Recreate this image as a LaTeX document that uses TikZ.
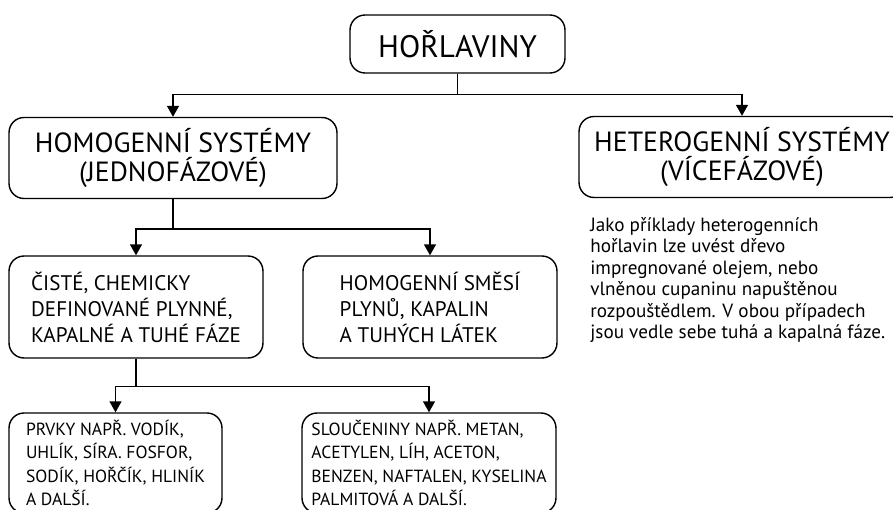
\documentclass[tikz,border=0pt]{standalone}
\usepackage{fontspec}
\setmainfont{PT Sans}
\usetikzlibrary{positioning, arrows.meta}
\tikzset{
  box/.style={rectangle, rounded corners=0.3cm, draw=black, line width=0.8pt, inner sep=0pt},
  mainbox/.style={box, minimum width=4.3cm, minimum height=1.16cm, align=center, font=\fontsize{17.7}{22}\selectfont},
  groupbox/.style={box, minimum height=1.62cm, align=center, font=\fontsize{15.8}{17}\selectfont},
  kindbox/.style={box, minimum width=5.08cm, minimum height=2.04cm, align=left, font=\fontsize{12}{14.8}\selectfont},
  examplebox/.style={box, minimum height=2cm, align=left, font=\fontsize{10}{13.3}\selectfont},
  note/.style={align=left, inner sep=0pt, font=\fontsize{10.9}{12.2}\selectfont},
  line/.style={line width=0.8pt},
  arrow/.style={line width=0.8pt, -{Triangle[width=0.24cm, length=0.22cm]}}
}

\begin{document}
\begin{tikzpicture}[x=0.02cm, y=-0.02cm]
    \clip (0,0) rectangle (893,510);

    \node (top) [mainbox] at (457.5,44) {HOŘLAVINY};

    \node (homo) [groupbox, minimum width=6.56cm] at (173,158) {HOMOGENNÍ SYSTÉMY\\(JEDNOFÁZOVÉ)};
    \node (het) [groupbox, minimum width=6.52cm] at (742,157) {HETEROGENNÍ SYSTÉMY\\(VÍCEFÁZOVÉ)};

    \node (note) [note, anchor=north west] at (590,217) {Jako příklady heterogenních\\hořlavin lze uvést dřevo\\impregnované olejem, nebo\\vlněnou cupaninu napuštěnou\\rozpouštědlem. V obou případech\\jsou vedle sebe tuhá a kapalná fáze.};

    \node (ciste) [kindbox] at (136,307) {ČISTÉ, CHEMICKY\\DEFINOVANÉ PLYNNÉ,\\KAPALNÉ A TUHÉ FÁZE};
    \node (smesi) [kindbox] at (430,307) {HOMOGENNÍ SMĚSÍ\\PLYNŮ, KAPALIN\\A TUHÝCH LÁTEK};

    \node (prvky) [examplebox, minimum width=4.26cm] at (115.5,463) {PRVKY NAPŘ. VODÍK,\\UHLÍK, SÍRA. FOSFOR,\\SODÍK, HOŘČÍK, HLINÍK\\A DALŠÍ.};
    \node (slouc) [examplebox, minimum width=5.08cm] at (429,463) {SLOUČENINY NAPŘ. METAN,\\ACETYLEN, LÍH, ACETON,\\BENZEN, NAFTALEN, KYSELINA\\PALMITOVÁ A DALŠÍ.};

    % Prvni uroven
    \draw [arrow] (top.south) -- ++(0,21) -| (homo.north);
    \draw [arrow] (top.south) -- ++(0,21) -| (het.north);

    % Homogenni systemy
    \draw [arrow] (homo.south) -- ++(0,30) -| (ciste.north);
    \draw [arrow] (homo.south) -- ++(0,30) -| (smesi.north);

    % Ciste latky
    \draw [arrow] (ciste.south) -- ++(0,28) -| (prvky.north);
    \draw [arrow] (ciste.south) -- ++(0,28) -| (slouc.north);

\end{tikzpicture}
\end{document}
